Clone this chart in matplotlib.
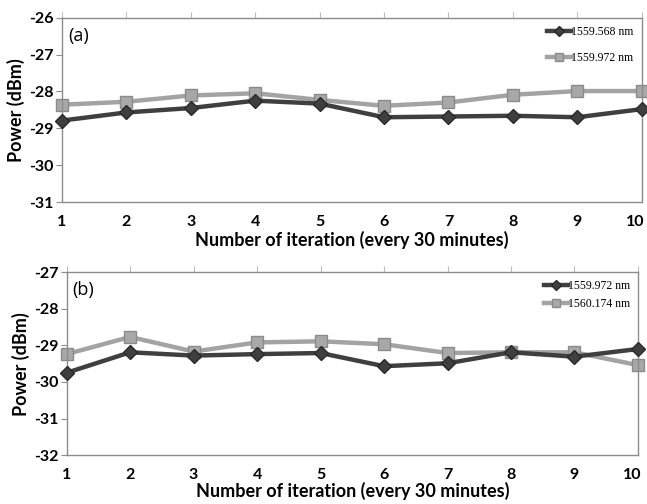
import matplotlib
matplotlib.use("Agg")
import matplotlib.pyplot as plt
from matplotlib.transforms import ScaledTranslation

iterations = [1, 2, 3, 4, 5, 6, 7, 8, 9, 10]

a_1559_568 = [-28.79, -28.57, -28.45, -28.25, -28.33, -28.70, -28.68, -28.66, -28.70, -28.48]
a_1559_972 = [-28.36, -28.28, -28.11, -28.05, -28.23, -28.39, -28.30, -28.09, -27.99, -27.99]

b_1559_972 = [-29.75, -29.19, -29.28, -29.24, -29.21, -29.57, -29.49, -29.19, -29.31, -29.10]
b_1560_174 = [-29.24, -28.77, -29.17, -28.92, -28.89, -28.97, -29.21, -29.19, -29.19, -29.54]

DARK = "#3f3f3f"
LIGHT = "#a3a3a3"
SPINE = "#8c8c8c"
TICKFONT = "Lato"

fig = plt.figure(figsize=(6.47, 5.04), dpi=100)
ax_a = fig.add_axes([0.0958, 0.599, 0.896, 0.366])
ax_b = fig.add_axes([0.103, 0.097, 0.883, 0.363])

def style(ax, ylim, yticks, panel, series, labels, leg_fs, xpad):
    d, l = series
    ax.plot(iterations, d, color=DARK, lw=3.2, marker="D", ms=7,
            mfc=DARK, mec="#2a2a2a", label=labels[0], zorder=3, clip_on=False)
    ax.plot(iterations, l, color=LIGHT, lw=3.2, marker="s", ms=9,
            mfc="#a8a8a8", mec="#8a8a8a", label=labels[1], zorder=2, clip_on=False)
    ax.set_xlim(1, 10)
    ax.set_ylim(*ylim)
    ax.set_yticks(yticks)
    ax.set_yticklabels([str(v) for v in yticks])
    ax.set_xticks(iterations)
    for s in ax.spines.values():
        s.set_color(SPINE)
        s.set_linewidth(1.0)
    ax.tick_params(axis="y", direction="out", length=4, color=SPINE, pad=2)
    ax.tick_params(axis="x", bottom=False, top=True, labelbottom=True,
                   direction="out", length=4, color="#bbbbbb", pad=5)
    for lab in ax.get_xticklabels() + ax.get_yticklabels():
        lab.set_fontfamily(TICKFONT)
        lab.set_fontweight("bold")
        lab.set_fontsize(11.5)
    last = ax.get_xticklabels()[-1]
    last.set_transform(last.get_transform() + ScaledTranslation(-6 / 100, 0, fig.dpi_scale_trans))
    ax.set_ylabel("Power (dBm)", fontfamily=TICKFONT, fontweight="bold", fontsize=13, labelpad=3)
    ax.set_xlabel("Number of iteration (every 30 minutes)", fontfamily=TICKFONT,
                  fontweight="bold", fontsize=13, labelpad=xpad)
    ax.text(0.01, 0.95, panel, transform=ax.transAxes, ha="left", va="top",
            fontfamily="Open Sans", fontsize=13)
    ax.legend(loc="upper right", frameon=False, prop={"family": "Liberation Serif", "size": 8.5},
              handlelength=2.0, handletextpad=0.0, labelspacing=leg_fs,
              borderaxespad=0.3, markerscale=0.7)

style(ax_a, (-31, -26), [-31, -30, -29, -28, -27, -26], "(a)",
      (a_1559_568, a_1559_972), ["1559.568 nm", "1559.972 nm"], 1.2, 2)
style(ax_b, (-32, -27), [-32, -31, -30, -29, -28, -27], "(b)",
      (b_1559_972, b_1560_174), ["1559.972 nm", "1560.174 nm"], 0.5, 0)

fig.savefig("out.png", dpi=100)
